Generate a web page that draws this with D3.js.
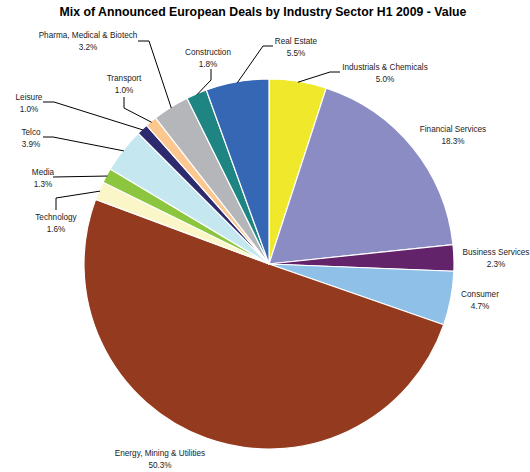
<!DOCTYPE html>
<html>
<head>
<meta charset="utf-8">
<script src="https://cdn.jsdelivr.net/npm/d3@7"></script>
<style>
  html, body { margin: 0; padding: 0; background: #fff; }
  svg { display: block; }
  text { font-family: "Liberation Sans", Arial, sans-serif; fill: #222; }
</style>
</head>
<body>
<svg id="chart" width="530" height="472"></svg>
<script>
// Share of announced European deal value by sector, H1 2009 (%), clockwise from 12 o'clock
const sectors = [
  "Industrials & Chemicals", "Financial Services", "Business Services", "Consumer",
  "Energy, Mining & Utilities", "Technology", "Media", "Telco", "Leisure",
  "Transport", "Pharma, Medical & Biotech", "Construction", "Real Estate"
];
const shares = [5.0, 18.3, 2.3, 4.7, 50.3, 1.6, 1.3, 3.9, 1.0, 1.0, 3.2, 1.8, 5.5];
const sliceColors = [
  "#f0e92b", "#8b8cc4", "#62236a", "#8fc0e8", "#943a1f", "#faf6c8", "#8cc63f",
  "#c5e7ef", "#2e2a6e", "#fcc890", "#b5b6b9", "#1f8583", "#3567b5"
];

// label placement: centre x, first-line baseline y, and leader-line elbow points
const labelLayout = [
  { x: 385, y: 70,  leader: [[340, 72], [330, 72]] },
  { x: 453, y: 132, leader: null },
  { x: 496, y: 255, leader: null },
  { x: 480, y: 297, leader: null },
  { x: 160, y: 456, leader: null },
  { x: 56,  y: 220, leader: [[56, 210], [56, 198]] },
  { x: 43,  y: 175, leader: [[53, 177]] },
  { x: 31,  y: 135, leader: [[43, 137], [53, 137]] },
  { x: 29,  y: 100, leader: [[43, 102], [54, 102]] },
  { x: 124, y: 81,  leader: [[124, 97], [124, 108]] },
  { x: 88,  y: 38,  leader: [[138, 41], [149, 41]] },
  { x: 208, y: 55,  leader: [[211, 69], [211, 80]] },
  { x: 296, y: 44,  leader: [[273, 46], [263, 46]] }
];

const svg = d3.select("#chart");
const cx = 269, cy = 264, radius = 185;

svg.append("text")
  .attr("x", 263).attr("y", 16)
  .attr("text-anchor", "middle")
  .style("font-size", "12.3px").style("font-weight", "bold")
  .style("fill", "#000")
  .text("Mix of Announced European Deals by Industry Sector H1 2009 - Value");

const data = sectors.map((s, i) => ({ sector: s, share: shares[i], color: sliceColors[i], layout: labelLayout[i] }));

const pie = d3.pie().value(d => d.share).sort(null);
const arc = d3.arc().innerRadius(0).outerRadius(radius);
const arcs = pie(data);

const g = svg.append("g").attr("transform", `translate(${cx},${cy})`);

g.selectAll("path.slice")
  .data(arcs)
  .join("path")
  .attr("class", "slice")
  .attr("d", arc)
  .attr("fill", d => d.data.color)
  .attr("stroke", "#fff")
  .attr("stroke-width", 1.2);

// leader lines from label elbows to the slice rim at its mid-angle
const line = d3.line();
arcs.forEach(a => {
  const lay = a.data.layout;
  if (!lay.leader) return;
  const mid = (a.startAngle + a.endAngle) / 2;
  const edge = [cx + (radius - 1) * Math.sin(mid), cy - (radius - 1) * Math.cos(mid)];
  svg.append("path")
    .attr("d", line([...lay.leader, edge]))
    .attr("fill", "none")
    .attr("stroke", "#000")
    .attr("stroke-width", 1);
});

const fmt = d3.format(".1f");
const labels = svg.selectAll("text.lbl")
  .data(arcs)
  .join("text")
  .attr("class", "lbl")
  .attr("text-anchor", "middle")
  .style("font-size", "8.2px");
labels.append("tspan")
  .attr("x", d => d.data.layout.x)
  .attr("y", d => d.data.layout.y)
  .text(d => d.data.sector);
labels.append("tspan")
  .attr("x", d => d.data.layout.x)
  .attr("y", d => d.data.layout.y + 11.5)
  .text(d => fmt(d.data.share) + "%");
</script>
</body>
</html>
